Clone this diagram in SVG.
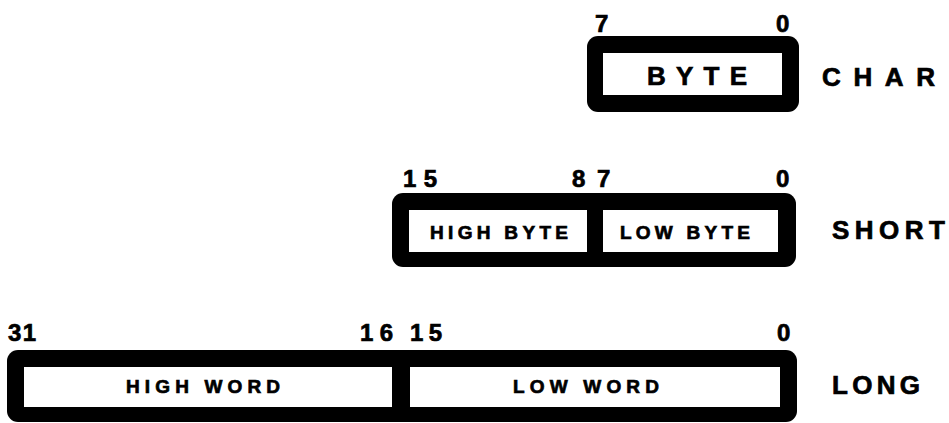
<svg xmlns="http://www.w3.org/2000/svg" width="949" height="423" viewBox="0 0 949 423">
<style>
.frame{fill:#000}
.cell{fill:#fff}
text{font-family:"Liberation Sans",Arial,sans-serif;font-weight:bold;fill:#000;stroke:#000;stroke-width:0.7}
.num{font-size:24px}
.type{font-size:26px}
.field{font-size:26px}
.small{font-size:19px}
</style>
<rect width="949" height="423" fill="#fff"/>
<g id="char">
<rect class="frame" x="587" y="36" width="212" height="76" rx="11"/>
<rect class="cell" x="603" y="53" width="179" height="42"/>
<text class="num" x="595" y="32">7</text>
<text class="num" x="776" y="32">0</text>
<text class="field" x="647" y="85" textLength="100" lengthAdjust="spacing">BYTE</text>
<text class="type" x="822" y="86" textLength="113" lengthAdjust="spacing">CHAR</text>
</g>
<g id="short">
<rect class="frame" x="392" y="193" width="404" height="74" rx="11"/>
<rect class="cell" x="409" y="210" width="178" height="42"/>
<rect class="cell" x="603" y="210" width="175" height="42"/>
<text class="num" x="403" y="187" textLength="34" lengthAdjust="spacing">15</text>
<text class="num" x="572" y="187">8</text>
<text class="num" x="597" y="187">7</text>
<text class="num" x="776" y="187">0</text>
<text class="small" x="430" y="239" textLength="138" lengthAdjust="spacing">HIGH BYTE</text>
<text class="small" x="620" y="239" textLength="130" lengthAdjust="spacing">LOW BYTE</text>
<text class="type" x="832" y="239" textLength="113" lengthAdjust="spacing">SHORT</text>
</g>
<g id="long">
<rect class="frame" x="7" y="350" width="790" height="72" rx="11"/>
<rect class="cell" x="24" y="367" width="368" height="40"/>
<rect class="cell" x="410" y="367" width="370" height="40"/>
<text class="num" x="8" y="341" textLength="28" lengthAdjust="spacing">31</text>
<text class="num" x="360" y="341" textLength="33" lengthAdjust="spacing">16</text>
<text class="num" x="410" y="341" textLength="32" lengthAdjust="spacing">15</text>
<text class="num" x="777" y="341">0</text>
<text class="small" x="126" y="393" textLength="154" lengthAdjust="spacing">HIGH WORD</text>
<text class="small" x="513" y="393" textLength="146" lengthAdjust="spacing">LOW WORD</text>
<text class="type" x="832" y="394" textLength="88" lengthAdjust="spacing">LONG</text>
</g>
<g id="connectors"/>
</svg>
